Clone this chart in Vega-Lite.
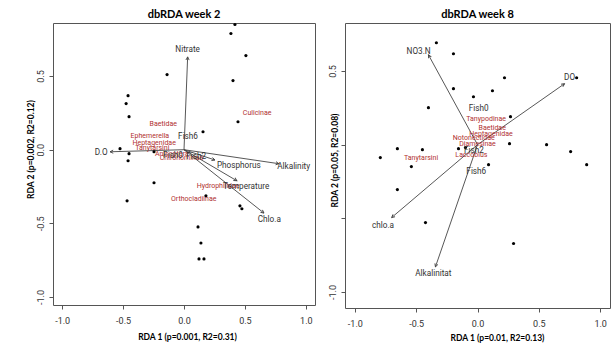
{
  "$schema": "https://vega.github.io/schema/vega-lite/v6.json",
  "padding": {"left": 25, "top": 8, "right": 6, "bottom": 2},
  "bounds": "flush",
  "spacing": 30,
  "background": "white",
  "config": {
    "view": {"stroke": "#555", "strokeWidth": 1},
    "axis": {"domain": false, "grid": false, "ticks": true, "tickColor": "#555", "tickSize": 4, "labelFont": "Roboto", "labelFontSize": 9, "labelColor": "#333", "titleFont": "Lato", "titleFontSize": 8.5, "titleFontWeight": "bold", "titleColor": "#000", "labelOverlap": false, "labelFlush": false},
    "title": {"font": "Lato", "fontSize": 11, "fontWeight": "bold", "color": "#000", "offset": 3, "anchor": "middle"},
    "text": {"font": "Roboto"}
  },
  "datasets": {
    "w2_sites": [
      {"x": 0.418, "y": 0.850}, {"x": 0.385, "y": 0.789}, {"x": 0.508, "y": 0.639}, {"x": -0.139, "y": 0.510},
      {"x": 0.402, "y": 0.469}, {"x": -0.459, "y": 0.367}, {"x": -0.475, "y": 0.313}, {"x": -0.451, "y": 0.224},
      {"x": 0.443, "y": 0.190}, {"x": 0.156, "y": 0.122}, {"x": -0.525, "y": 0.007}, {"x": -0.451, "y": -0.027},
      {"x": -0.459, "y": -0.075}, {"x": -0.246, "y": -0.014}, {"x": -0.246, "y": -0.224}, {"x": -0.467, "y": -0.347},
      {"x": 0.180, "y": -0.313}, {"x": 0.459, "y": -0.381}, {"x": 0.475, "y": -0.401}, {"x": 0.115, "y": -0.524},
      {"x": 0.139, "y": -0.633}, {"x": 0.123, "y": -0.741}, {"x": 0.164, "y": -0.741}
    ],
    "w2_env": [
      {"name": "Nitrate", "x": 0.03, "y": 0.63}, {"name": "D.O", "x": -0.607, "y": -0.014},
      {"name": "Alkalinity", "x": 0.779, "y": -0.095}, {"name": "Phosphorus", "x": 0.254, "y": -0.07},
      {"name": "Temperature", "x": 0.434, "y": -0.211}, {"name": "Chlo.a", "x": 0.656, "y": -0.43}
    ],
    "w2_labels": [
      {"name": "Nitrate", "kind": "env", "x": 0.03, "y": 0.68}, {"name": "D.O", "kind": "env", "x": -0.68, "y": -0.02},
      {"name": "Alkalinity", "kind": "env", "x": 0.90, "y": -0.115}, {"name": "Phosphorus", "kind": "env", "x": 0.45, "y": -0.11},
      {"name": "Temperature", "kind": "env", "x": 0.51, "y": -0.25}, {"name": "Chlo.a", "kind": "env", "x": 0.70, "y": -0.48},
      {"name": "Fish6", "kind": "env", "x": 0.033, "y": 0.088}, {"name": "Fish0", "kind": "env", "x": -0.09, "y": -0.04},
      {"name": "Fish2", "kind": "env", "x": 0.10, "y": -0.05},
      {"name": "Culicinae", "kind": "sp", "x": 0.60, "y": 0.25}, {"name": "Baetidae", "kind": "sp", "x": -0.17, "y": 0.177},
      {"name": "Ephemerella", "kind": "sp", "x": -0.28, "y": 0.095}, {"name": "Heptagenidae", "kind": "sp", "x": -0.245, "y": 0.048},
      {"name": "Tanytarsini", "kind": "sp", "x": -0.26, "y": 0.014}, {"name": "Anisoptera", "kind": "sp", "x": -0.10, "y": -0.03},
      {"name": "Chironominae", "kind": "sp", "x": -0.02, "y": -0.055}, {"name": "Hydrophilidae", "kind": "sp", "x": 0.28, "y": -0.245},
      {"name": "Orthocladiinae", "kind": "sp", "x": 0.08, "y": -0.333}
    ],
    "w8_sites": [
      {"x": -0.335, "y": 0.692}, {"x": -0.196, "y": 0.617}, {"x": 0.220, "y": 0.454}, {"x": -0.196, "y": 0.380},
      {"x": 0.122, "y": 0.366}, {"x": -0.033, "y": 0.325}, {"x": -0.400, "y": 0.251}, {"x": 0.269, "y": 0.190},
      {"x": 0.808, "y": 0.454}, {"x": -0.653, "y": -0.027}, {"x": -0.449, "y": -0.034}, {"x": -0.155, "y": -0.027},
      {"x": -0.098, "y": -0.020}, {"x": 0.261, "y": 0.007}, {"x": 0.563, "y": 0.0}, {"x": 0.759, "y": -0.047},
      {"x": 0.890, "y": -0.136}, {"x": -0.792, "y": -0.088}, {"x": -0.539, "y": -0.149}, {"x": 0.090, "y": -0.136},
      {"x": -0.653, "y": -0.305}, {"x": -0.424, "y": -0.529}, {"x": 0.294, "y": -0.671}
    ],
    "w8_env": [
      {"name": "NO3.N", "x": -0.40, "y": 0.61}, {"name": "DO", "x": 0.71, "y": 0.414},
      {"name": "chlo.a", "x": -0.70, "y": -0.495}, {"name": "Alkalinitat", "x": -0.343, "y": -0.83}
    ],
    "w8_labels": [
      {"name": "NO3.N", "kind": "env", "x": -0.48, "y": 0.63}, {"name": "DO", "kind": "env", "x": 0.75, "y": 0.455},
      {"name": "chlo.a", "kind": "env", "x": -0.77, "y": -0.55}, {"name": "Alkalinitat", "kind": "env", "x": -0.36, "y": -0.88},
      {"name": "Fish0", "kind": "env", "x": 0.01, "y": 0.245}, {"name": "Fish6", "kind": "env", "x": -0.01, "y": -0.183},
      {"name": "Fish2", "kind": "env", "x": -0.03, "y": -0.04},
      {"name": "Tanypodinae", "kind": "sp", "x": 0.07, "y": 0.177}, {"name": "Baetidae", "kind": "sp", "x": 0.12, "y": 0.11},
      {"name": "Heptagenidae", "kind": "sp", "x": 0.11, "y": 0.07}, {"name": "Notonectidae", "kind": "sp", "x": -0.03, "y": 0.048},
      {"name": "Diamesinae", "kind": "sp", "x": 0.0, "y": 0.007}, {"name": "Laccobius", "kind": "sp", "x": -0.05, "y": -0.068},
      {"name": "Tanytarsini", "kind": "sp", "x": -0.46, "y": -0.088}
    ]
  },
  "hconcat": [
    {
      "width": 262,
      "height": 282,
      "title": {"text": "dbRDA week 2"},
      "layer": [
        {"mark": {"type": "rule", "strokeDash": [1, 2], "color": "#666", "strokeWidth": 0.8},
         "encoding": {"y": {"datum": 0, "type": "quantitative", "scale": {"domain": [-1.054, 0.86], "nice": false, "zero": false}}}},
        {"mark": {"type": "rule", "strokeDash": [1, 2], "color": "#666", "strokeWidth": 0.8},
         "encoding": {"x": {"datum": 0, "type": "quantitative", "scale": {"domain": [-1.075, 1.075], "nice": false, "zero": false}}}},
        {"data": {"name": "w2_env"}, "mark": {"type": "rule", "color": "#444", "strokeWidth": 0.9},
         "encoding": {
           "x": {"field": "x", "type": "quantitative", "scale": {"domain": [-1.075, 1.075], "nice": false, "zero": false}},
           "y": {"field": "y", "type": "quantitative", "scale": {"domain": [-1.054, 0.86], "nice": false, "zero": false}},
           "x2": {"datum": 0}, "y2": {"datum": 0}}},
        {"data": {"name": "w2_env"}, "mark": {"type": "point", "shape": "M-0.5,1L0,0L0.5,1", "filled": false, "color": "#444", "strokeWidth": 0.9, "size": 40, "opacity": 1, "angle": {"expr": "atan2(datum.x*122, datum.y*147)*180/PI"}},
         "encoding": {
           "x": {"field": "x", "type": "quantitative", "scale": {"domain": [-1.075, 1.075], "nice": false, "zero": false}},
           "y": {"field": "y", "type": "quantitative", "scale": {"domain": [-1.054, 0.86], "nice": false, "zero": false}}}},
        {"data": {"name": "w2_sites"}, "mark": {"type": "point", "filled": true, "color": "#000", "size": 10, "opacity": 1},
         "encoding": {
           "x": {"field": "x", "type": "quantitative", "scale": {"domain": [-1.075, 1.075], "nice": false, "zero": false},
                 "axis": {"title": "RDA 1 (p=0.001, R2=0.31)", "values": [-1, -0.5, 0, 0.5, 1], "labelExpr": "replace(format(datum.value,'.1f'),'\u2212','-')", "labelPadding": 7, "titleX": 134, "titleY": 31, "titleBaseline": "middle", "titleAlign": "center"}},
           "y": {"field": "y", "type": "quantitative", "scale": {"domain": [-1.054, 0.86], "nice": false, "zero": false},
                 "axis": {"title": "RDA 2 (p=0.002, R2=0.12)", "values": [-1, -0.5, 0, 0.5], "labelExpr": "replace(format(datum.value,'.1f'),'\u2212','-')", "labelAngle": 270, "labelAlign": "center", "labelBaseline": "bottom", "labelPadding": 4, "titleAngle": 270, "titleX": -23, "titleY": 126, "titleAlign": "center", "titleBaseline": "middle"}}}},
        {"data": {"name": "w2_labels"}, "transform": [{"filter": "datum.kind == 'sp'"}],
         "mark": {"type": "text", "color": "#b03030", "fontSize": 7, "align": "center", "baseline": "middle"},
         "encoding": {
           "x": {"field": "x", "type": "quantitative", "scale": {"domain": [-1.075, 1.075], "nice": false, "zero": false}},
           "y": {"field": "y", "type": "quantitative", "scale": {"domain": [-1.054, 0.86], "nice": false, "zero": false}},
           "text": {"field": "name"}}},
        {"data": {"name": "w2_labels"}, "transform": [{"filter": "datum.kind == 'env'"}],
         "mark": {"type": "text", "color": "#333", "fontSize": 8.2, "align": "center", "baseline": "middle"},
         "encoding": {
           "x": {"field": "x", "type": "quantitative", "scale": {"domain": [-1.075, 1.075], "nice": false, "zero": false}},
           "y": {"field": "y", "type": "quantitative", "scale": {"domain": [-1.054, 0.86], "nice": false, "zero": false}},
           "text": {"field": "name"}}}
      ]
    },
    {
      "width": 265,
      "height": 285,
      "title": {"text": "dbRDA week 8"},
      "layer": [
        {"mark": {"type": "rule", "strokeDash": [1, 2], "color": "#666", "strokeWidth": 0.8},
         "encoding": {"y": {"datum": 0, "type": "quantitative", "scale": {"domain": [-1.109, 0.826], "nice": false, "zero": false}}}},
        {"mark": {"type": "rule", "strokeDash": [1, 2], "color": "#666", "strokeWidth": 0.8},
         "encoding": {"x": {"datum": 0, "type": "quantitative", "scale": {"domain": [-1.08, 1.08], "nice": false, "zero": false}}}},
        {"data": {"name": "w8_env"}, "mark": {"type": "rule", "color": "#444", "strokeWidth": 0.9},
         "encoding": {
           "x": {"field": "x", "type": "quantitative", "scale": {"domain": [-1.08, 1.08], "nice": false, "zero": false}},
           "y": {"field": "y", "type": "quantitative", "scale": {"domain": [-1.109, 0.826], "nice": false, "zero": false}},
           "x2": {"datum": 0}, "y2": {"datum": 0}}},
        {"data": {"name": "w8_env"}, "mark": {"type": "point", "shape": "M-0.5,1L0,0L0.5,1", "filled": false, "color": "#444", "strokeWidth": 0.9, "size": 40, "opacity": 1, "angle": {"expr": "atan2(datum.x*122.5, datum.y*147)*180/PI"}},
         "encoding": {
           "x": {"field": "x", "type": "quantitative", "scale": {"domain": [-1.08, 1.08], "nice": false, "zero": false}},
           "y": {"field": "y", "type": "quantitative", "scale": {"domain": [-1.109, 0.826], "nice": false, "zero": false}}}},
        {"data": {"name": "w8_sites"}, "mark": {"type": "point", "filled": true, "color": "#000", "size": 10, "opacity": 1},
         "encoding": {
           "x": {"field": "x", "type": "quantitative", "scale": {"domain": [-1.08, 1.08], "nice": false, "zero": false},
                 "axis": {"title": "RDA 1 (p=0.01, R2=0.13)", "values": [-1, -0.5, 0, 0.5, 1], "labelExpr": "replace(format(datum.value,'.1f'),'\u2212','-')", "labelPadding": 7, "titleX": 152, "titleY": 29, "titleBaseline": "middle", "titleAlign": "center"}},
           "y": {"field": "y", "type": "quantitative", "scale": {"domain": [-1.109, 0.826], "nice": false, "zero": false},
                 "axis": {"title": "RDA 2 (p=0.05, R2=0.08)", "values": [-1, -0.5, 0, 0.5], "labelExpr": "datum.value == 0.5 || datum.value == -1 ? replace(format(datum.value,'.1f'),'\u2212','-') : ''", "labelAngle": 270, "labelAlign": "center", "labelBaseline": "bottom", "labelPadding": 4, "titleAngle": 270, "titleX": -11, "titleY": 137, "titleAlign": "center", "titleBaseline": "middle"}}}},
        {"data": {"name": "w8_labels"}, "transform": [{"filter": "datum.kind == 'sp'"}],
         "mark": {"type": "text", "color": "#b03030", "fontSize": 7, "align": "center", "baseline": "middle"},
         "encoding": {
           "x": {"field": "x", "type": "quantitative", "scale": {"domain": [-1.08, 1.08], "nice": false, "zero": false}},
           "y": {"field": "y", "type": "quantitative", "scale": {"domain": [-1.109, 0.826], "nice": false, "zero": false}},
           "text": {"field": "name"}}},
        {"data": {"name": "w8_labels"}, "transform": [{"filter": "datum.kind == 'env'"}],
         "mark": {"type": "text", "color": "#333", "fontSize": 8.2, "align": "center", "baseline": "middle"},
         "encoding": {
           "x": {"field": "x", "type": "quantitative", "scale": {"domain": [-1.08, 1.08], "nice": false, "zero": false}},
           "y": {"field": "y", "type": "quantitative", "scale": {"domain": [-1.109, 0.826], "nice": false, "zero": false}},
           "text": {"field": "name"}}}
      ]
    }
  ]
}
